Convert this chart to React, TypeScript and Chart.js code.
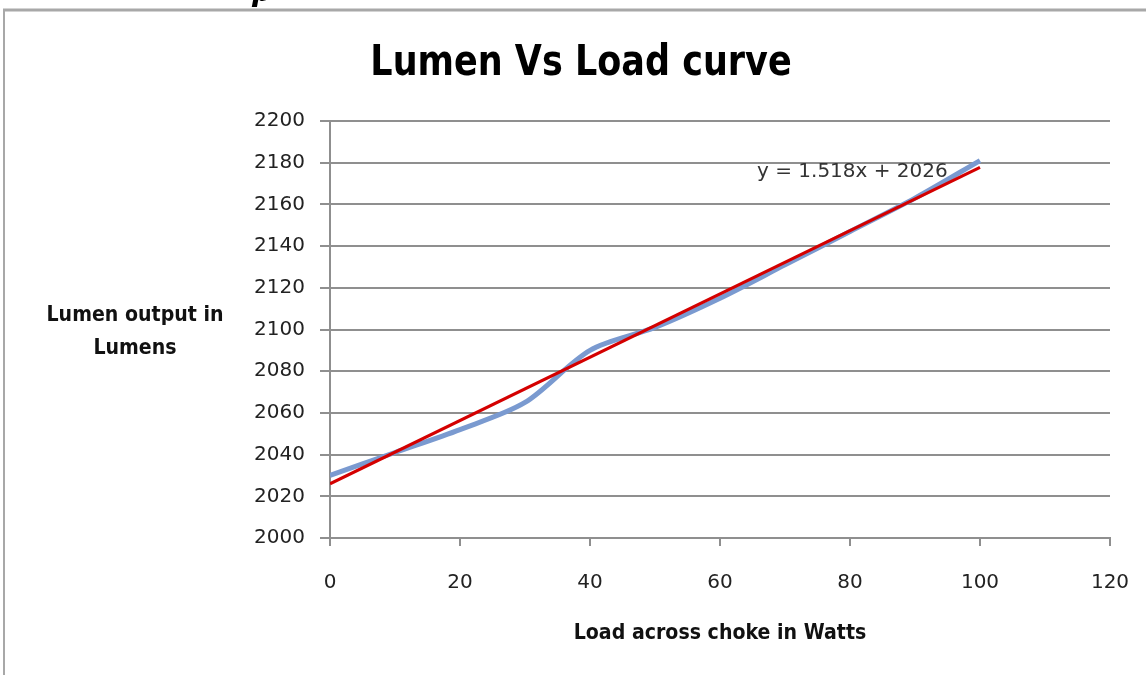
import React, { useEffect, useRef } from "react";
import { Chart, registerables } from "chart.js";

Chart.register(...registerables);

const chartTitle = "Lumen Vs Load curve";
const xAxisTitle = "Load across choke in Watts";
const yAxisTitleLines = ["Lumen output in", "Lumens"];
const trendLabel = "y = 1.518x + 2026";

const loadWatts = [0, 10, 20, 30, 40, 50, 60, 70, 80, 90, 100];
const lumenOutput = [2030, 2041, 2052, 2065, 2090, 2101, 2115, 2131, 2147, 2163, 2181];

const trendX = [0, 100];
const trendY = [2026, 2177.8];

const xMin = 0, xMax = 120, xStep = 20;
const yMin = 2000, yMax = 2200, yStep = 20;

const GRID = "#8f8f8f";

function drawText(ctx: CanvasRenderingContext2D, text: string, x: number, y: number, font: string, align: CanvasTextAlign, sy: number, color: string) {
  ctx.save();
  ctx.translate(x, y);
  ctx.scale(1, sy);
  ctx.font = font;
  ctx.textAlign = align;
  ctx.textBaseline = "alphabetic";
  ctx.fillStyle = color;
  ctx.fillText(text, 0, 0);
  ctx.restore();
}

const decorPlugin = {
  id: "decor",
  beforeDraw(chart: any) {
    const ctx = chart.ctx as CanvasRenderingContext2D;
    ctx.save();
    ctx.fillStyle = "#ffffff";
    ctx.fillRect(0, 0, chart.width, chart.height);
    ctx.restore();
  },
  afterDraw(chart: any) {
    const ctx = chart.ctx as CanvasRenderingContext2D;
    ctx.save();
    ctx.strokeStyle = "#a8a8a8";
    ctx.lineWidth = 3;
    ctx.beginPath();
    ctx.moveTo(3, 10);
    ctx.lineTo(chart.width, 10);
    ctx.stroke();
    ctx.lineWidth = 2;
    ctx.beginPath();
    ctx.moveTo(4, 10);
    ctx.lineTo(4, chart.height);
    ctx.stroke();
    ctx.restore();
    drawText(ctx, "p", 251, 1, 'italic bold 30px "DejaVu Serif"', "left", 1, "#000");
    drawText(ctx, chartTitle, 581, 75, 'bold 35px "DejaVu Sans"', "center", 1.2, "#000");
    drawText(ctx, yAxisTitleLines[0], 135, 321, 'bold 19px "DejaVu Sans"', "center", 1.08, "#111");
    drawText(ctx, yAxisTitleLines[1], 135, 354, 'bold 19px "DejaVu Sans"', "center", 1.08, "#111");
    drawText(ctx, xAxisTitle, 720, 639, 'bold 19px "DejaVu Sans"', "center", 1.08, "#111");
    drawText(ctx, trendLabel, 757, 177, '20px "DejaVu Sans"', "left", 1, "#333");
  },
};

export default function App() {
  const ref = useRef<HTMLCanvasElement | null>(null);
  useEffect(() => {
    document.body.style.margin = "0";
    const canvas = ref.current!;
    const chart = new Chart(canvas, {
      type: "scatter",
      data: {
        datasets: [
          {
            label: "Trend",
            data: trendX.map((x, i) => ({ x, y: trendY[i] })),
            showLine: true,
            borderColor: "#d40000",
            borderWidth: 3,
            pointRadius: 0,
            order: 0,
          },
          {
            label: "Lumen output",
            data: loadWatts.map((x, i) => ({ x, y: lumenOutput[i] })),
            showLine: true,
            borderColor: "#7a9ad0",
            borderWidth: 5,
            pointRadius: 0,
            tension: 0.3,
            order: 1,
          },
        ],
      },
      options: {
        animation: false,
        responsive: false,
        devicePixelRatio: 1,
        layout: { padding: { left: 0, top: 121, right: 36, bottom: 0 } },
        plugins: {
          legend: { display: false },
          title: { display: false },
          tooltip: { enabled: false },
        },
        scales: {
          x: {
            type: "linear",
            min: xMin,
            max: xMax,
            afterFit: (s: any) => { s.height = 137; s.paddingRight = 0; s.paddingLeft = 0; },
            grid: { drawOnChartArea: false, drawTicks: true, tickLength: 8, color: GRID, lineWidth: 2 },
            border: { display: true, color: GRID, width: 2 },
            ticks: { stepSize: xStep, padding: 25, color: "#222", font: { family: "DejaVu Sans", size: 20 }, callback: (v: any) => String(v) },
          },
          y: {
            type: "linear",
            min: yMin,
            max: yMax,
            afterFit: (s: any) => { s.width = 330; s.paddingTop = 0; s.paddingBottom = 0; },
            grid: { drawTicks: true, tickLength: 10, color: GRID, lineWidth: 2 },
            border: { display: true, color: GRID, width: 2 },
            ticks: { stepSize: yStep, padding: 15, color: "#222", font: { family: "DejaVu Sans", size: 20 }, callback: (v: any) => String(v) },
          },
        },
      },
      plugins: [decorPlugin],
    });
    return () => chart.destroy();
  }, []);
  return (
    <div style={{ width: 1146, height: 675, position: "relative" }}>
      <canvas ref={ref} width={1146} height={675} style={{ display: "block" }} />
    </div>
  );
}
